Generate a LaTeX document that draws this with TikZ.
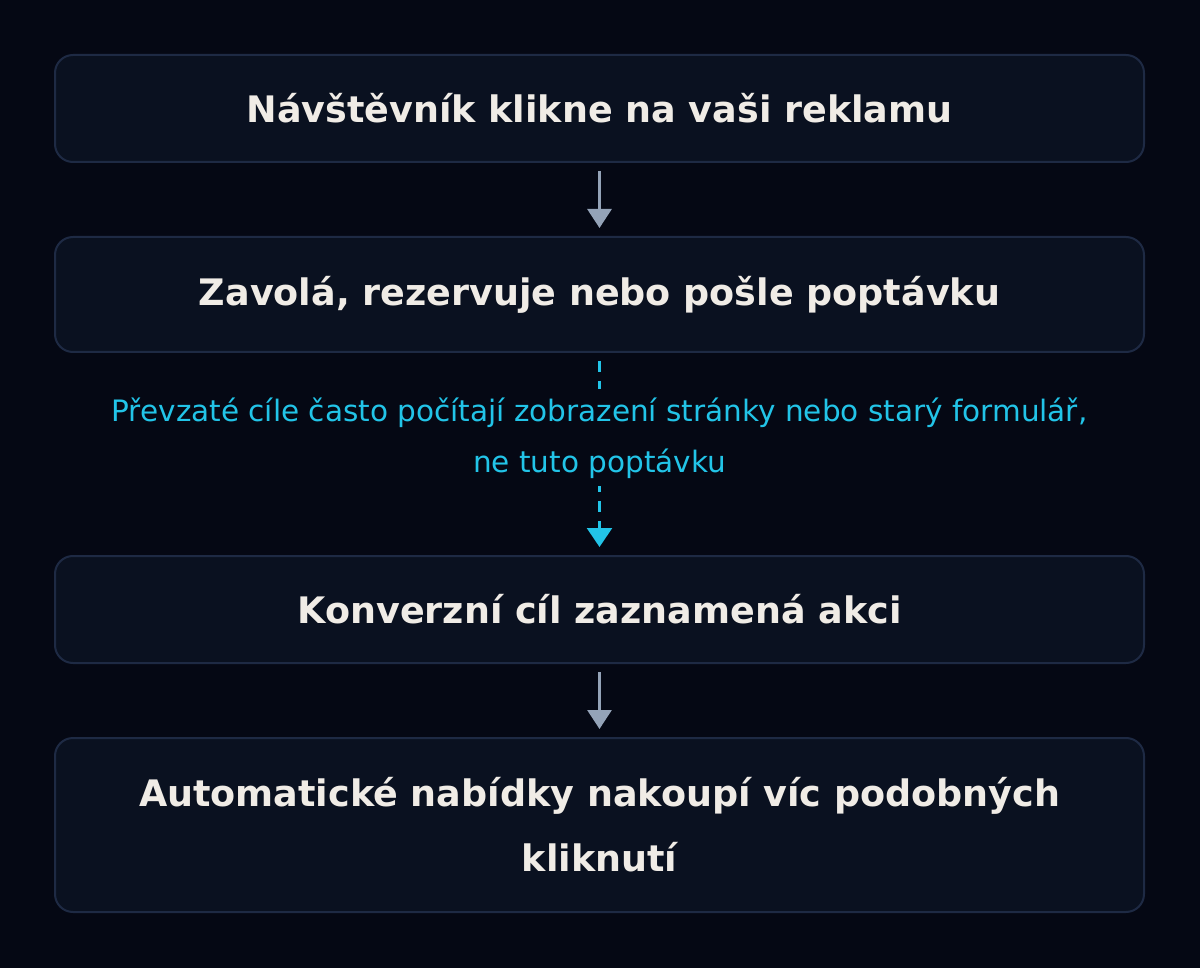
\documentclass[tikz,border=0pt]{standalone}
\usepackage{fontspec}
\setmainfont{DejaVu Sans}
\usetikzlibrary{arrows.meta}
\definecolor{pagebg}{HTML}{050814}
\definecolor{boxfill}{HTML}{0A1120}
\definecolor{boxline}{HTML}{1E2A44}
\definecolor{boxtext}{HTML}{F0ECE6}
\definecolor{flowgray}{HTML}{94A3B8}
\definecolor{warncyan}{HTML}{22C4E8}
\tikzset{
	stepbox/.style={draw=boxline, line width=2pt, fill=boxfill, rounded corners=18pt,
		minimum width=1089pt, text=boxtext, align=center, inner sep=0pt,
		font=\fontsize{36.5}{65}\selectfont\bfseries},
	flow/.style={draw=flowgray, line width=3pt, shorten <=8pt, shorten >=8pt,
		-{Triangle[length=19pt,width=24pt]}},
	warnflow/.style={draw=warncyan, line width=2.5pt, dash pattern=on 11pt off 9pt,
		shorten <=8pt, shorten >=8pt, -{Triangle[length=19pt,width=25pt]}},
}

\begin{document}
\begin{tikzpicture}[x=1pt,y=-1pt]
\fill[pagebg] (0,0) rectangle (1200,968);
\useasboundingbox (0,0) rectangle (1200,968);
\node[stepbox, minimum height=107pt] (klik) at (599.5,108.5) {Návštěvník klikne na vaši reklamu};
\node[stepbox, minimum height=115pt] (akce) at (599.5,294.5) {Zavolá, rezervuje nebo pošle poptávku};
\node[stepbox, minimum height=107pt] (cil) at (599.5,609.5) {Konverzní cíl zaznamená akci};
\node[stepbox, minimum height=174pt] (nabidky) at (599.5,825) {Automatické nabídky nakoupí víc podobných\\kliknutí};
\draw[flow] (klik) -- (akce);
\draw[warnflow] (akce) -- node[pos=0.42, fill=pagebg, text=warncyan, align=center, inner sep=8pt,
	font=\fontsize{29.5}{51}\selectfont]
	{Převzaté cíle často počítají zobrazení stránky nebo starý formulář,\\ne tuto poptávku} (cil);
\draw[flow] (cil) -- (nabidky);
\end{tikzpicture}
\end{document}
